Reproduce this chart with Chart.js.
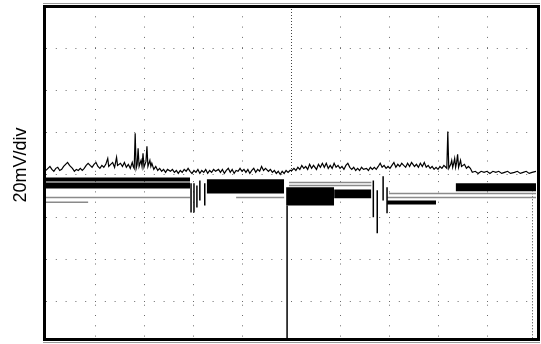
<!DOCTYPE html>
<html>
<head>
<meta charset="utf-8">
<script src="https://cdn.jsdelivr.net/npm/chart.js@4.4.1/dist/chart.umd.min.js"></script>
<style>
  html, body { margin: 0; padding: 0; background: #fff; }
  #wrap { width: 541px; height: 344px; }
</style>
</head>
<body>
<div id="wrap"><canvas id="scope"></canvas></div>
<script>
// time in samples (50 per division), voltage in mV (20 mV/div)
const traceT = [
  0, 2, 4, 6, 8, 10, 12, 14, 16, 18, 20, 22, 24, 27, 29, 31, 33, 35, 37, 39, 41, 43, 45, 47, 49, 51, 53, 55, 57, 59,
  61, 63, 64, 66, 68, 70, 72, 73, 76, 78, 80, 82, 84, 86, 88, 89, 90, 91, 92, 93, 94, 95, 96, 97, 98, 99, 100, 102, 103, 104,
  106, 107, 108, 110, 112, 114, 116, 118, 120, 122, 124, 127, 129, 131, 133, 135, 137, 139, 141, 143, 145, 147,
  149, 151, 153, 155, 157, 159, 161, 163, 165, 167, 169, 171, 173, 176, 178, 180, 182, 184, 186, 188, 190, 192, 194, 196,
  198, 200, 202, 204, 206, 208, 210, 212, 214, 216, 218, 220, 222, 224, 227, 229, 231, 233, 235, 237, 239, 241, 243, 245, 247, 249,
  251, 253, 255, 257, 259, 261, 263, 265, 267, 269, 271, 273, 276, 278, 280, 282, 284, 286, 288, 290, 292, 294, 296, 298,
  300, 302, 304, 306, 308, 310, 312, 314, 316, 318, 320, 322, 324, 327, 329, 331, 333, 335, 337, 339, 341, 343, 345, 347,
  349, 351, 353, 355, 357, 359, 361, 363, 365, 367, 369, 371, 373, 376, 378, 380, 382, 384, 386, 388, 390, 392, 394, 396,
  398, 400, 402, 404, 406, 408, 409, 410, 411, 413, 414, 415, 416, 417, 418, 419, 420, 421, 423, 424, 427, 429, 431, 433,
  435, 438, 441, 444, 447, 450, 453, 456, 459, 462, 465, 468, 471, 474, 478, 481, 484, 487, 490, 493, 496, 500,
];
const traceMv = [
  2.1, 3.1, 4.0, 2.6, 1.7, 3.1, 3.6, 2.1, 2.6, 4.0, 5.0, 5.9, 4.5, 3.1, 1.7, 2.6, 2.1, 3.1, 2.1, 3.1, 4.5, 5.5, 4.5, 3.6, 5.0, 5.9, 4.0, 3.1, 4.5, 3.6,
  5.0, 7.8, 4.0, 5.0, 5.9, 3.6, 8.3, 4.5, 5.5, 4.0, 5.9, 3.6, 5.0, 3.1, 5.9, 4.0, 3.1, 19.7, 3.1, 5.0, 12.6, 4.0, 5.5, 6.9, 4.0, 10.2, 3.6, 6.4, 13.5, 4.0,
  6.9, 4.0, 5.5, 2.6, 4.0, 2.1, 3.1, 1.7, 2.6, 1.2, 2.6, 1.7, 2.6, 1.2, 2.1, 0.7, 2.1, 1.2, 2.6, 1.7, 3.1, 1.7,
  0.7, 2.1, 1.2, 2.6, 0.7, 2.1, 1.2, 2.6, 0.7, 2.1, 1.2, 2.6, 1.7, 2.6, 1.2, 2.6, 0.7, 2.1, 3.1, 1.2, 2.6, 0.7, 2.1, 1.7,
  3.1, 1.7, 2.6, 1.2, 2.6, 0.7, 2.1, 3.1, 1.2, 2.6, 1.7, 4.0, 2.1, 3.1, 1.7, 2.6, 1.2, 2.1, 0.7, 1.7, 0.2, 1.7, 0.7, 2.1, 1.2, 2.1,
  2.1, 3.1, 2.1, 3.6, 2.6, 4.5, 3.1, 4.0, 2.6, 5.0, 3.1, 4.5, 2.6, 5.0, 3.6, 5.5, 3.6, 5.5, 3.1, 4.5, 3.1, 5.5, 3.6, 4.5,
  3.1, 4.0, 2.6, 4.5, 5.5, 3.6, 2.6, 3.6, 2.1, 3.1, 2.1, 3.6, 2.6, 3.1, 2.1, 3.6, 2.6, 3.6, 2.6, 4.0, 5.5, 3.6, 4.5, 3.1,
  4.0, 3.1, 4.5, 5.9, 3.6, 5.0, 4.0, 5.5, 4.5, 3.6, 5.5, 4.0, 5.9, 4.0, 5.0, 3.6, 5.5, 4.0, 5.9, 3.6, 4.5, 3.1, 4.0, 2.6,
  3.6, 2.6, 4.0, 3.1, 4.5, 3.6, 3.1, 20.6, 3.1, 5.0, 6.9, 3.6, 5.5, 7.8, 3.6, 5.9, 9.7, 3.6, 6.9, 4.0, 5.0, 3.1, 4.0, 3.1,
  1.2, 1.7, 0.7, 1.7, 1.2, 1.7, 0.7, 1.7, 1.2, 1.7, 0.7, 1.2, 1.7, 0.7, 1.2, 1.7, 0.7, 1.2, 1.7, 0.7, 1.2, 1.7,
];

// solid black bands left on the persistence display
const bandStart = [0, 0, 164, 245, 294, 348, 418];
const bandEnd = [147, 147, 243, 294, 332, 398, 500];
const bandTop = [-1.2, -3.6, -2.1, -5.9, -6.9, -12.1, -4.0];
const bandBottom = [-3.1, -6.4, -8.8, -14.5, -11.1, -14.0, -7.8];

// thin grey traces
const greyStart = [0, 0, 194, 350, 348, 248, 248];
const greyEnd = [147, 43, 243, 500, 500, 332, 332];
const greyMv = [-10.7, -13.0, -10.7, -8.8, -10.7, -3.6, -5.0];

// downward glitches
const spikeT = [148, 151, 154, 157, 162, 246, 334, 338, 344, 348];
const spikeFrom = [-4.0, -4.0, -5.0, -2.6, -4.0, -14.5, -2.6, -7.3, -0.7, -5.9];
const spikeTo = [-17.8, -17.8, -15.4, -12.1, -14.5, -77.5, -20.1, -27.7, -12.1, -18.2];

const xTicks = [50, 100, 150, 200, 300, 350, 400, 450];
const yTicks = [-60, -40, -20, 0, 20, 40, 60];

const datasets = [];

datasets.push({
  data: traceT.map((t, i) => ({ x: t, y: traceMv[i] })),
  borderColor: "#000",
  borderWidth: 1.2,
  pointRadius: 0,
  fill: false,
});

spikeT.forEach((t, i) => {
  datasets.push({
    data: [{ x: t, y: spikeFrom[i] }, { x: t, y: spikeTo[i] }],
    borderColor: "#000",
    borderWidth: 1.5,
    pointRadius: 0,
    fill: false,
  });
});

greyStart.forEach((s, i) => {
  datasets.push({
    data: [{ x: s, y: greyMv[i] }, { x: greyEnd[i], y: greyMv[i] }],
    borderColor: "#8a8a8a",
    borderWidth: 1.5,
    pointRadius: 0,
    fill: false,
  });
});

bandStart.forEach((s, i) => {
  datasets.push({
    data: [{ x: s, y: bandTop[i] }, { x: bandEnd[i], y: bandTop[i] }],
    borderWidth: 0,
    pointRadius: 0,
    fill: false,
  });
  datasets.push({
    data: [{ x: s, y: bandBottom[i] }, { x: bandEnd[i], y: bandBottom[i] }],
    borderWidth: 0,
    pointRadius: 0,
    backgroundColor: "#000",
    fill: "-1",
  });
});

// center marker, right-hand dotted rule, frame and the volts/div label
const scopeDecor = {
  id: "scopeDecor",
  beforeDatasetsDraw(chart) {
    const { ctx, chartArea: a, scales } = chart;
    const cx = Math.round(scales.x.getPixelForValue(250)) + 0.5;
    const rx = Math.round(scales.x.getPixelForValue(496)) + 0.5;
    ctx.save();
    ctx.strokeStyle = "#444";
    ctx.lineWidth = 1;
    ctx.setLineDash([1, 2]);
    ctx.beginPath();
    ctx.moveTo(cx, a.top);
    ctx.lineTo(cx, scales.y.getPixelForValue(0));
    ctx.moveTo(rx, scales.y.getPixelForValue(-7.3));
    ctx.lineTo(rx, a.bottom);
    ctx.stroke();
    ctx.restore();
  },
  afterDraw(chart) {
    const { ctx, chartArea: a } = chart;
    ctx.save();
    ctx.strokeStyle = "#9a9a9a";
    ctx.lineWidth = 1;
    ctx.beginPath();
    ctx.moveTo(a.left - 3, a.top - 2.5);
    ctx.lineTo(a.right + 4, a.top - 2.5);
    ctx.moveTo(a.left - 3, a.bottom + 4);
    ctx.lineTo(a.right + 4, a.bottom + 4);
    ctx.stroke();
    ctx.strokeStyle = "#000";
    ctx.lineWidth = 3;
    ctx.strokeRect(a.left - 1.5, a.top + 0.5, a.right - a.left + 4, a.bottom - a.top + 0.5);
    ctx.translate(21, 165);
    ctx.rotate(-Math.PI / 2);
    ctx.fillStyle = "#000";
    ctx.font = '18px "Liberation Sans", Arial, sans-serif';
    ctx.textAlign = "center";
    ctx.textBaseline = "middle";
    ctx.fillText("20mV/div", 0, 0);
    ctx.restore();
  },
};

new Chart(document.getElementById("scope"), {
  type: "line",
  data: { datasets },
  plugins: [scopeDecor],
  options: {
    responsive: true,
    maintainAspectRatio: false,
    animation: false,
    events: [],
    layout: { padding: { top: 6, right: 5, bottom: 5.5, left: 46 } },
    plugins: { legend: { display: false }, tooltip: { enabled: false } },
    elements: { line: { tension: 0 } },
    scales: {
      x: {
        type: "linear",
        min: 0,
        max: 500,
        afterBuildTicks: (s) => { s.ticks = xTicks.map((v) => ({ value: v })); },
        afterFit: (s) => { s.height = 0; },
        ticks: { display: false },
        grid: { color: "#6a6a6a", lineWidth: 1, drawTicks: false },
        border: { display: false, dash: [1, 9.3] },
      },
      y: {
        type: "linear",
        min: -77.5,
        max: 80,
        afterBuildTicks: (s) => { s.ticks = yTicks.map((v) => ({ value: v })); },
        afterFit: (s) => { s.width = 0; },
        ticks: { display: false },
        grid: { color: "#6a6a6a", lineWidth: 1, drawTicks: false },
        border: { display: false, dash: [1, 8.8] },
      },
    },
  },
});
</script>
</body>
</html>
